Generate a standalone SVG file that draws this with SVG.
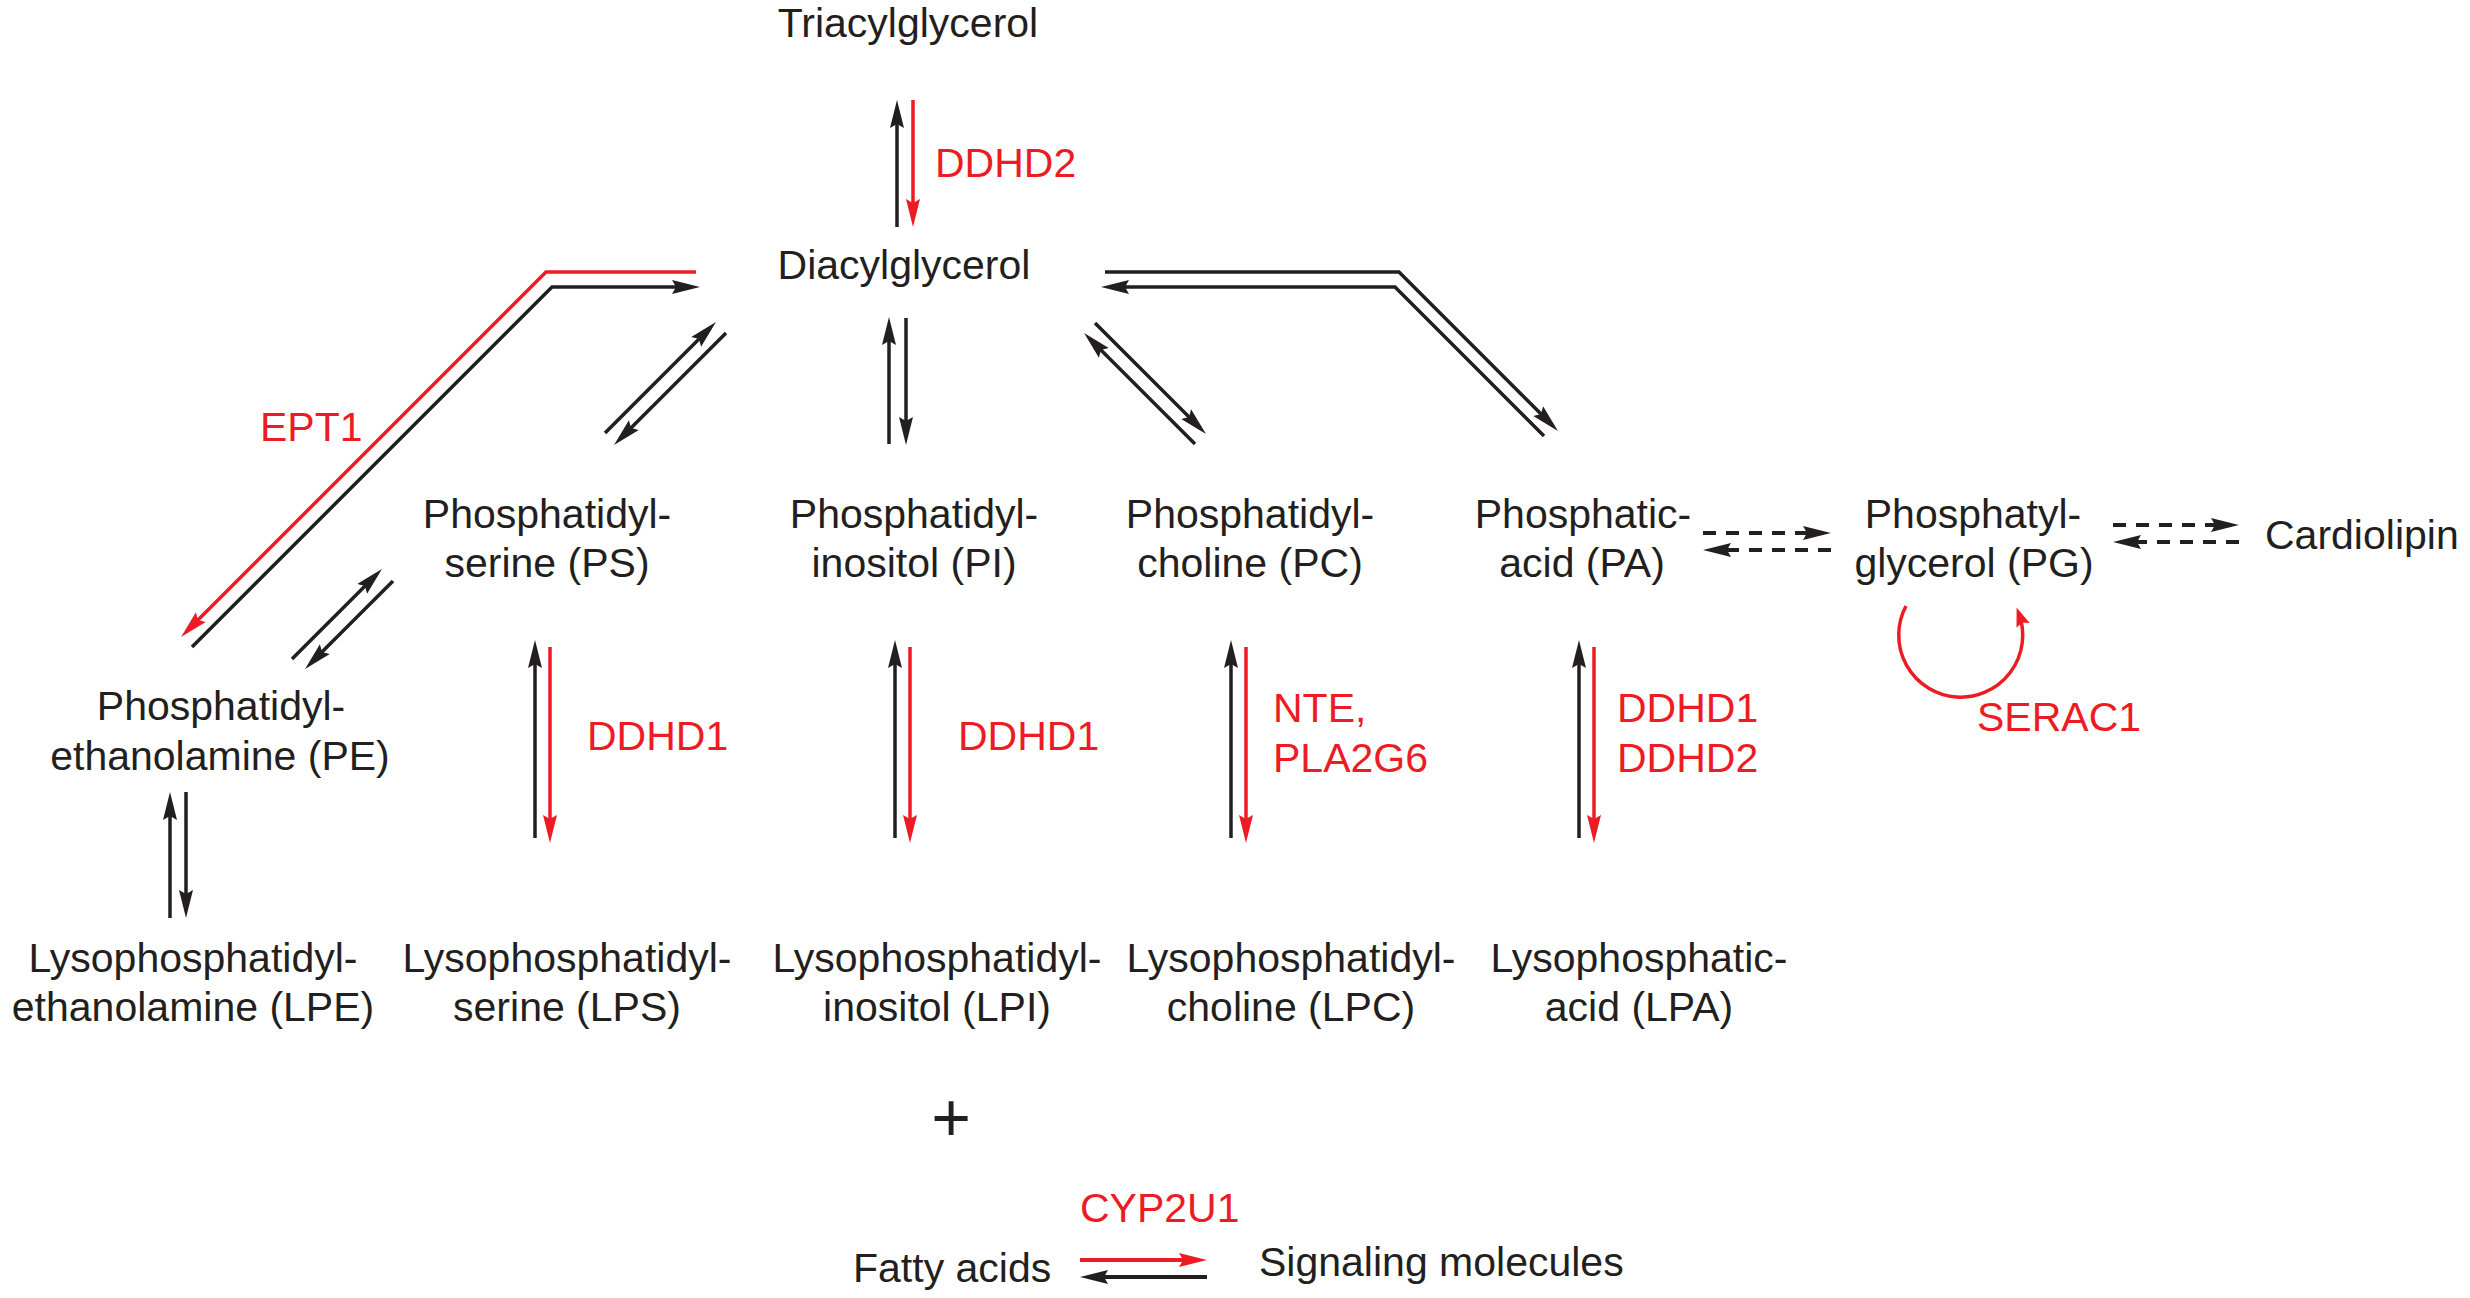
<svg xmlns="http://www.w3.org/2000/svg" width="2470" height="1298" viewBox="0 0 2470 1298">
<style>
text{font-family:"Liberation Sans",Arial,sans-serif;font-size:41px;fill:#231f20}
.c{text-anchor:middle}
.r{fill:#ed1c24}
.k{fill:none;stroke:#231f20;stroke-width:3.5;marker-end:url(#ah)}
.kr{fill:none;stroke:#ed1c24;stroke-width:3.5;marker-end:url(#ahr)}
.d{fill:none;stroke:#231f20;stroke-width:4;stroke-dasharray:13 10;marker-end:url(#ah)}
.b{stroke-width:4}
</style>
<defs>
<marker id="ah" markerUnits="userSpaceOnUse" markerWidth="40" markerHeight="20" viewBox="0 -10 40 20" refX="20" refY="0" orient="auto"><path d="M0,-7 L28,0 L0,7 L4,0 Z" fill="#231f20"/></marker>
<marker id="ahr" markerUnits="userSpaceOnUse" markerWidth="40" markerHeight="20" viewBox="0 -10 40 20" refX="20" refY="0" orient="auto"><path d="M0,-7 L28,0 L0,7 L4,0 Z" fill="#ed1c24"/></marker>
<marker id="ahs" markerUnits="userSpaceOnUse" markerWidth="30" markerHeight="20" viewBox="0 -10 30 20" refX="12" refY="0" orient="auto"><path d="M0,-7 L19,0 L0,7 L3,0 Z" fill="#ed1c24"/></marker>
</defs>

<g id="connectors">
<!-- TAG <-> DAG -->
<path class="k" d="M897,227 V108"/>
<path class="kr" d="M913,100 V219"/>
<!-- EPT1 route -->
<path class="kr" d="M696,272 H546 L186.7,631.3"/>
<path class="k" d="M192,647 L552,287 H692"/>
<!-- DAG <-> PS -->
<path class="k" d="M605,433 L710.3,327.7"/>
<path class="k" d="M726,333 L619.7,439.3"/>
<!-- PS <-> PE -->
<path class="k" d="M292,659 L376.3,574.7"/>
<path class="k" d="M393,581 L310.7,663.3"/>
<!-- DAG <-> PI -->
<path class="k" d="M889,444 V325"/>
<path class="k" d="M906,318 V437"/>
<!-- DAG <-> PC -->
<path class="k" d="M1195,444 L1089.7,338.7"/>
<path class="k" d="M1095,323 L1200.3,428.3"/>
<!-- DAG <-> PA -->
<path class="k" d="M1105,272 H1399 L1552.3,425.3"/>
<path class="k" d="M1544,436 L1395,287 H1109"/>
<!-- PE <-> LPE -->
<path class="k" d="M170,918 V800"/>
<path class="k" d="M186,792 V910"/>
<!-- PS <-> LPS -->
<path class="k" d="M535,838 V648"/>
<path class="kr" d="M550,647 V835"/>
<!-- PI <-> LPI -->
<path class="k" d="M895,838 V648"/>
<path class="kr" d="M910,647 V835"/>
<!-- PC <-> LPC -->
<path class="k" d="M1231,838 V648"/>
<path class="kr" d="M1246,647 V835"/>
<!-- PA <-> LPA -->
<path class="k" d="M1579,838 V648"/>
<path class="kr" d="M1594,647 V835"/>
<!-- PA <-> PG dashed -->
<path class="d" d="M1703,533 H1823"/>
<path class="d" d="M1831,550 H1711"/>
<!-- PG <-> Cardiolipin dashed -->
<path class="d" d="M2113,525 H2231"/>
<path class="d" d="M2239,542 H2121"/>
<!-- SERAC1 loop -->
<path fill="none" stroke="#ed1c24" stroke-width="3.5" marker-end="url(#ahs)" d="M1906,606 A62,62 0 1 0 2019,614"/>
<!-- Fatty acids <-> Signaling molecules -->
<path class="kr b" d="M1080,1260 H1199"/>
<path class="k b" d="M1207,1277 H1088"/>
</g>

<g id="n-tag"><text class="c" x="908" y="37">Triacylglycerol</text></g>
<g id="n-dag"><text class="c" x="904" y="279">Diacylglycerol</text></g>
<g id="n-ps"><text class="c" x="547" y="528">Phosphatidyl-</text><text class="c" x="547" y="577">serine (PS)</text></g>
<g id="n-pi"><text class="c" x="914" y="528">Phosphatidyl-</text><text class="c" x="914" y="577">inositol (PI)</text></g>
<g id="n-pc"><text class="c" x="1250" y="528">Phosphatidyl-</text><text class="c" x="1250" y="577">choline (PC)</text></g>
<g id="n-pa"><text class="c" x="1583" y="528">Phosphatic-</text><text class="c" x="1582" y="577">acid (PA)</text></g>
<g id="n-pg"><text class="c" x="1973" y="528">Phosphatyl-</text><text class="c" x="1974" y="577">glycerol (PG)</text></g>
<g id="n-cl"><text x="2265" y="549">Cardiolipin</text></g>
<g id="n-pe"><text class="c" x="221" y="720">Phosphatidyl-</text><text class="c" x="220" y="770">ethanolamine (PE)</text></g>
<g id="n-lpe"><text class="c" x="193" y="972">Lysophosphatidyl-</text><text class="c" x="193" y="1021">ethanolamine (LPE)</text></g>
<g id="n-lps"><text class="c" x="567" y="972">Lysophosphatidyl-</text><text class="c" x="567" y="1021">serine (LPS)</text></g>
<g id="n-lpi"><text class="c" x="937" y="972">Lysophosphatidyl-</text><text class="c" x="937" y="1021">inositol (LPI)</text></g>
<g id="n-lpc"><text class="c" x="1291" y="972">Lysophosphatidyl-</text><text class="c" x="1291" y="1021">choline (LPC)</text></g>
<g id="n-lpa"><text class="c" x="1639" y="972">Lysophosphatic-</text><text class="c" x="1639" y="1021">acid (LPA)</text></g>
<g id="n-plus"><text class="c" x="951" y="1141" style="font-size:68px">+</text></g>
<g id="n-fa"><text x="853" y="1282">Fatty acids</text></g>
<g id="n-sm"><text x="1259" y="1276">Signaling molecules</text></g>

<g id="labels">
<text class="r" x="935" y="177">DDHD2</text>
<text class="r" x="260" y="441">EPT1</text>
<text class="r" x="587" y="750">DDHD1</text>
<text class="r" x="958" y="750">DDHD1</text>
<text class="r" x="1273" y="722">NTE,</text>
<text class="r" x="1273" y="772">PLA2G6</text>
<text class="r" x="1617" y="722">DDHD1</text>
<text class="r" x="1617" y="772">DDHD2</text>
<text class="r" x="1977" y="731">SERAC1</text>
<text class="r" x="1080" y="1222">CYP2U1</text>
</g>
</svg>
